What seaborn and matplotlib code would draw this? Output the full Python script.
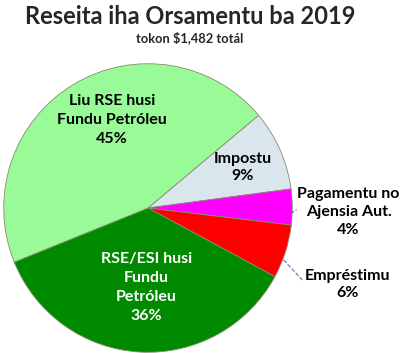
import matplotlib
matplotlib.use("Agg")
import matplotlib.pyplot as plt
import seaborn as sns

sns.set_theme(style="white")
plt.rcParams['font.family'] = ['Lato', 'DejaVu Sans']

categories = ["Impostu", "Pagamentu no\nAjensia Aut.", "Empréstimu",
              "RSE/ESI husi\nFundu\nPetróleu", "Liu RSE husi\nFundu Petróleu"]
values = [9, 4, 6, 36, 45]
colors = ["#DAE6EE", "#FF00FF", "#FF0000", "#008A00", "#98FB98"]
title = "Reseita iha Orsamentu ba 2019"
subtitle = "tokon $1,482 totál"

fig = plt.figure(figsize=(4.0, 3.53), dpi=100)
ax = fig.add_axes([3/400, 0/353, 290/400, 290/353])
wedges, _ = ax.pie(values, colors=colors, startangle=40, counterclock=False,
                   radius=1.0, wedgeprops=dict(edgecolor="#8A8A70", linewidth=0.6))
ax.set_xlim(-1.005, 1.005)
ax.set_ylim(-1.005, 1.005)
ax.set_aspect("equal")
ax.axis("off")

# label positions (data coords relative to pie centre, radius 1)
label_pos = [(0.655, 0.28), (1.39, -0.03), (1.38, -0.53), (-0.01, -0.55), (-0.25, 0.61)]
text_colors = ["black", "black", "black", "white", "black"]
spacing = [1.3, 1.35, 1.35, 1.45, 1.45]
for cat, v, (x, y), tc, ls in zip(categories, values, label_pos, text_colors, spacing):
    ax.text(x, y, f"{cat}\n{v}%", ha="center", va="center", fontsize=11.5,
            fontweight="bold", color=tc, linespacing=ls, clip_on=False)

# leader lines
ax.plot([0.99, 1.03], [-0.04, -0.01], ls="--", color="#4A7EBB", lw=0.8, clip_on=False)
ax.plot([0.94, 1.07], [-0.36, -0.50], ls="--", color="#4A7EBB", lw=0.8, clip_on=False)

fig.text(0.475, 1 - 16/353, title, ha="center", va="center", fontsize=17, fontweight="bold")
fig.text(0.473, 1 - 38/353, subtitle, ha="center", va="center", fontsize=9.3, fontweight="bold")

fig.savefig("out.png", dpi=100)
